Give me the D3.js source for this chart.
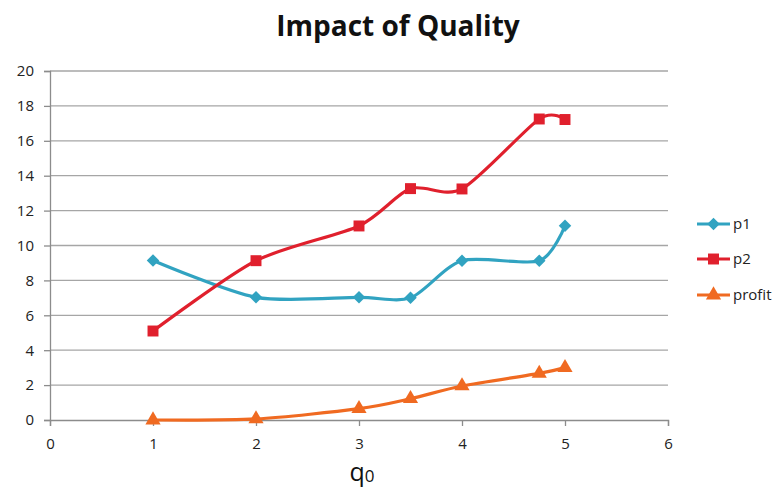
<!DOCTYPE html>
<html><head><meta charset="utf-8">
<script src="https://cdn.jsdelivr.net/npm/d3@7"></script>
<style>body{margin:0;background:#fff;} svg{display:block;}</style>
</head><body>
<svg id="chart" width="779" height="488"></svg>
<script>
const xValues = [1, 2, 3, 3.5, 4, 4.75, 5];
const p1 = [9.14, 7.03, 7.03, 7.0, 9.13, 9.12, 11.13];
const p2 = [5.1, 9.13, 11.12, 13.26, 13.24, 17.25, 17.22];
const profit = [0.0, 0.06, 0.65, 1.22, 1.95, 2.67, 3.0];
const seriesNames = ["p1", "p2", "profit"];
const xTicks = [0, 1, 2, 3, 4, 5, 6];
const yTicks = [0, 2, 4, 6, 8, 10, 12, 14, 16, 18, 20];

const colors = {p1: "#31a3c1", p2: "#e0202d", profit: "#f06a21"};
const symbols = {p1: d3.symbolDiamond2 || d3.symbolDiamond, p2: d3.symbolSquare, profit: d3.symbolTriangle};
const symSize = {p1: 100, p2: 120, profit: 100};
const seriesData = {p1, p2, profit};

const svg = d3.select("#chart");
const x = d3.scaleLinear().domain([0, 6]).range([50, 668]);
const y = d3.scaleLinear().domain([0, 20]).range([420, 71]);
const font = "'Open Sans', 'DejaVu Sans', sans-serif";

svg.append("text").attr("x", 398).attr("y", 36).attr("text-anchor", "middle")
  .attr("font-family", font).attr("font-weight", "bold").attr("font-size", 28)
  .attr("fill", "#111").text("Impact of Quality");

// gridlines
svg.append("g").selectAll("line").data(yTicks.filter(d => d > 0)).join("line")
  .attr("x1", x(0)).attr("x2", x(6)).attr("y1", d => y(d)).attr("y2", d => y(d))
  .attr("stroke", "#a6a6a6").attr("stroke-width", 1.3);

// y axis
const yAxis = svg.append("g").attr("transform", `translate(${x(0)},0)`)
  .call(d3.axisLeft(y).tickValues(yTicks).tickFormat(d3.format("d")).tickSize(6).tickPadding(10));
yAxis.select(".domain").attr("stroke", "#8c8c8c").attr("stroke-width", 1.3);
yAxis.selectAll(".tick line").attr("stroke", "#8c8c8c").attr("stroke-width", 1.3);
yAxis.selectAll("text").attr("font-family", font).attr("font-size", 15).attr("fill", "#222");

// x axis
const xAxis = svg.append("g").attr("transform", `translate(0,${y(0)})`)
  .call(d3.axisBottom(x).tickValues(xTicks).tickFormat(d3.format("d")).tickSize(6).tickPadding(12));
xAxis.select(".domain").attr("stroke", "#8c8c8c").attr("stroke-width", 1.3);
xAxis.selectAll(".tick line").attr("stroke", "#8c8c8c").attr("stroke-width", 1.3);
xAxis.selectAll("text").attr("font-family", font).attr("font-size", 15).attr("fill", "#222");

// x label
const xl = svg.append("text").attr("x", 362).attr("y", 481).attr("text-anchor", "middle")
  .attr("font-family", font).attr("font-size", 25).attr("fill", "#111");
xl.append("tspan").text("q");
xl.append("tspan").attr("font-size", 17).attr("dy", 1).text("0");

const line = d3.line().x((d, i) => x(xValues[i])).y(d => y(d)).curve(d3.curveCardinal.tension(0.2));

seriesNames.forEach(name => {
  const vals = seriesData[name];
  svg.append("path").attr("d", line(vals)).attr("fill", "none")
    .attr("stroke", colors[name]).attr("stroke-width", 3.2);
  svg.append("g").selectAll("path").data(vals).join("path")
    .attr("transform", (d, i) => `translate(${x(xValues[i])},${y(d)})`)
    .attr("d", d3.symbol(symbols[name], symSize[name])())
    .attr("fill", colors[name]);
});

// legend
const legY = {p1: 224, p2: 259, profit: 295};
seriesNames.forEach(name => {
  const g = svg.append("g").attr("transform", `translate(697,${legY[name]})`);
  g.append("line").attr("x1", 0).attr("x2", 33).attr("stroke", colors[name]).attr("stroke-width", 3.2);
  g.append("path").attr("transform", "translate(16.5,0)")
    .attr("d", d3.symbol(symbols[name], symSize[name])()).attr("fill", colors[name]);
  g.append("text").attr("x", 36).attr("y", 5).attr("font-family", font)
    .attr("font-size", 15).attr("fill", "#222").text(name);
});
</script>
</body></html>
